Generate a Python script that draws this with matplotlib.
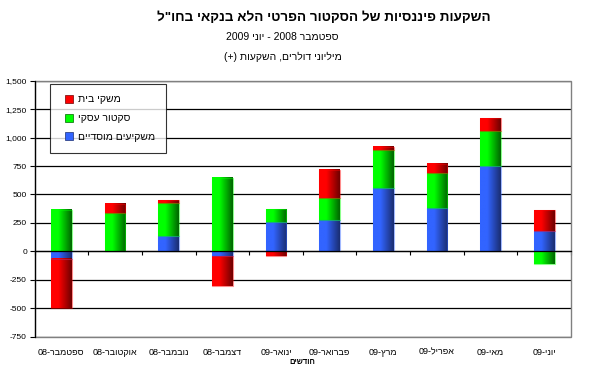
import numpy as np
import matplotlib
matplotlib.use("Agg")
import matplotlib.pyplot as plt
from matplotlib.colors import LinearSegmentedColormap
from matplotlib.lines import Line2D
from matplotlib.patches import Rectangle
from matplotlib.ticker import FuncFormatter

plt.rcParams['font.family'] = ['Liberation Sans', 'DejaVu Sans']


def rtl(s):
    # matplotlib has no bidi, so hebrew goes in visual order
    return s[::-1]


months = ['ספטמבר', 'אוקטובר', 'נובמבר', 'דצמבר', 'ינואר',
          'פברואר', 'מרץ', 'אפריל', 'מאי', 'יוני']
years = ['08', '08', '08', '08', '09', '09', '09', '09', '09', '09']

# million dollars, order of stacking: institutional, business, households
institutional = [-65, 0, 138, -44, 261, 279, 561, 378, 750, 180]
business = [365, 335, 287, 648, 114, 186, 326, 308, 311, -110]
households = [-435, 85, 23, -257, -41, 250, 29, 84, 111, 183]

series = [
    ('משקיעים מוסדיים', institutional, '#3264ff', '#1a2d70'),
    ('סקטור עסקי', business, '#00ff00', '#006400'),
    ('משקי בית', households, '#ff0000', '#6e0000'),
]

fig = plt.figure(figsize=(5.91, 3.71), dpi=100)
ax = fig.add_axes([0.0584, 0.0925, 0.908, 0.69])

x = np.arange(len(months))
width = 0.39
pos_bottom = np.zeros(len(x))
neg_bottom = np.zeros(len(x))
handles = {}
for name, vals, light, dark in series:
    vals = np.array(vals, dtype=float)
    bottom = np.where(vals >= 0, pos_bottom, neg_bottom)
    bars = ax.bar(x, vals, width, bottom=bottom, color='none',
                  edgecolor=light, linewidth=0.8, alpha=0.45, zorder=3)
    cmap = LinearSegmentedColormap.from_list(
        name, [(0, light), (0.35, light), (1, dark)])
    grad = np.linspace(0, 1, 64).reshape(1, -1)
    for p in bars:
        if p.get_height() == 0:
            continue
        x0, y0 = p.get_x(), p.get_y()
        ax.imshow(grad, cmap=cmap, aspect='auto', interpolation='bilinear',
                  extent=(x0, x0 + p.get_width(), y0, y0 + p.get_height()),
                  zorder=2.5)
    pos_bottom += np.where(vals > 0, vals, 0)
    neg_bottom += np.where(vals < 0, vals, 0)
    handles[name] = Line2D([], [], linestyle='none', marker='s',
                           markersize=5.5, markerfacecolor=light,
                           markeredgecolor=dark, markeredgewidth=0.5)

ax.set_xlim(-0.5, len(x) - 0.5)
ax.set_ylim(-750, 1500)
ax.set_yticks(np.arange(-750, 1501, 250))
ax.yaxis.set_major_formatter(FuncFormatter(lambda v, _: f'{int(v):,}'))
ax.grid(axis='y', color='black', linewidth=0.9)
ax.set_axisbelow(True)
ax.tick_params(axis='y', labelsize=6, length=3.5, width=0.8, pad=2)

# x axis sits on zero, ticks between categories, labels at the bottom
ax.spines['bottom'].set_position(('data', 0))
ax.spines['bottom'].set_linewidth(0.9)
ax.spines['bottom'].set_zorder(4)
ax.set_xticks(x)
ax.set_xticks(np.arange(-0.5, len(x), 1), minor=True)
ax.tick_params(axis='x', which='major', length=0, labelbottom=False)
ax.tick_params(axis='x', which='minor', length=3, width=0.8, direction='out')
for s in ['top', 'right']:
    ax.spines[s].set_visible(False)
ax.spines['left'].set_linewidth(0.9)
ax.add_patch(Rectangle((0, 0), 1, 1, transform=ax.transAxes, fill=False,
                       edgecolor='#808080', linewidth=1.0, zorder=1,
                       clip_on=False))

for i, (m, y) in enumerate(zip(months, years)):
    ax.text(i, -0.06, y + '-' + rtl(m), transform=ax.get_xaxis_transform(),
            ha='center', va='center', fontsize=6.5)
fig.text(0.511, 0.022, rtl('חודשים'), ha='center', va='center',
         fontsize=5.5, fontweight='bold')

order = ['משקי בית', 'סקטור עסקי', 'משקיעים מוסדיים']
leg = ax.legend([handles[n] for n in order], [rtl(n) for n in order],
                loc='upper left', bbox_to_anchor=(0.029, 0.987),
                fontsize=7.5, frameon=True, fancybox=False, edgecolor='black',
                handlelength=1.6, handletextpad=0.1,
                labelspacing=0.85, borderpad=1.0, borderaxespad=0)
leg.get_frame().set_linewidth(0.8)
leg.set_zorder(5)

fig.text(0.548, 0.951, rtl('השקעות פיננסיות של הסקטור הפרטי הלא בנקאי בחו"ל'),
         ha='center', va='center', fontsize=9.7, fontweight='bold')
fig.text(0.478, 0.9, '2009 ' + rtl('יוני') + ' - 2008 ' + rtl('ספטמבר'),
         ha='center', va='center', fontsize=7.5)
fig.text(0.478, 0.846, '(+) ' + rtl('השקעות') + ' ,' + rtl('דולרים') + ' '
         + rtl('מיליוני'), ha='center', va='center', fontsize=7.5)

fig.savefig('out.png', dpi=100)
